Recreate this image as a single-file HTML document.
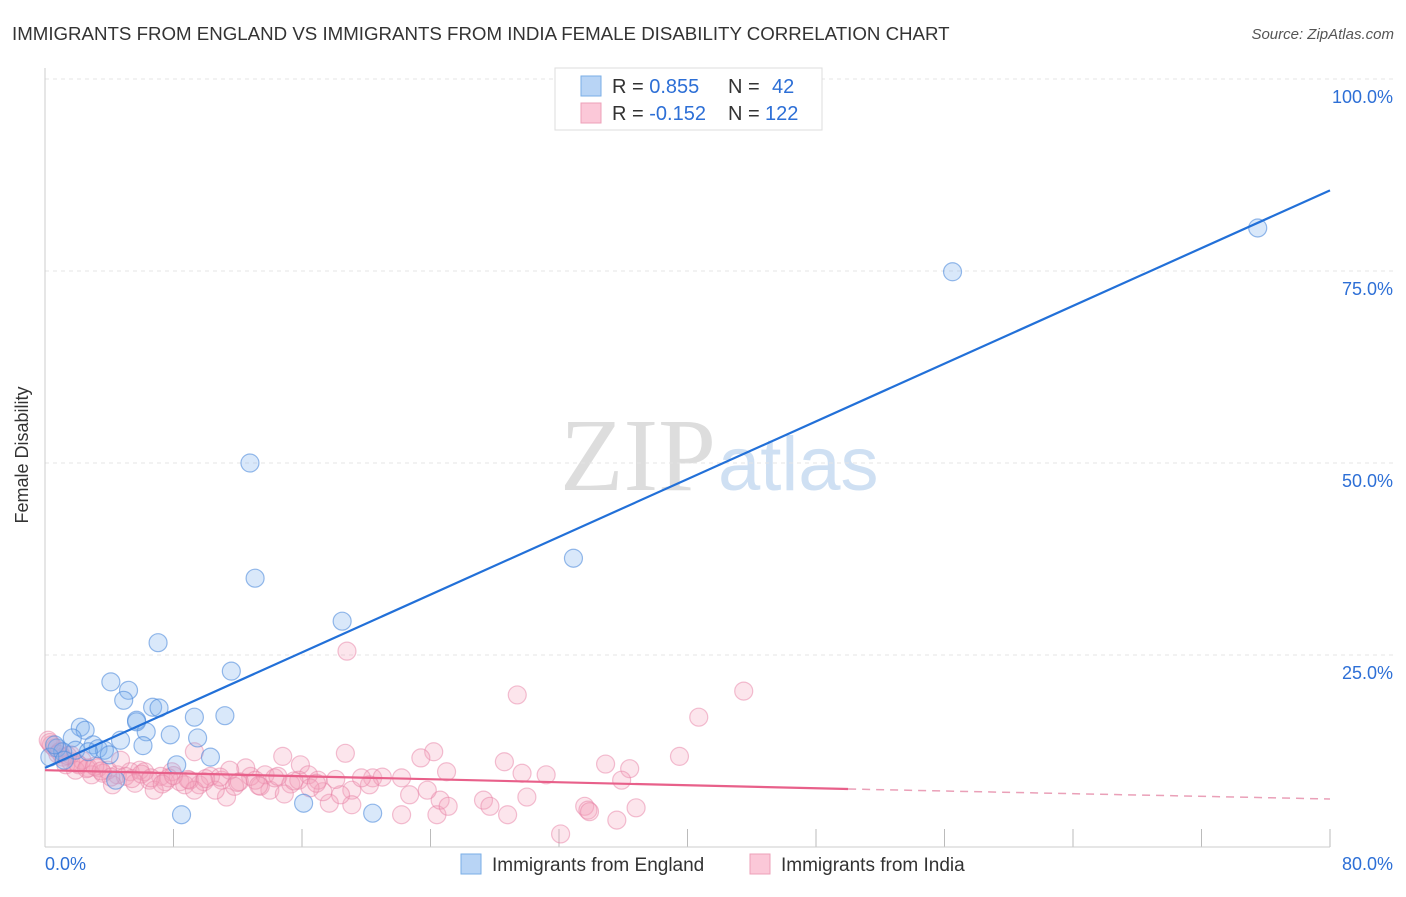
<!DOCTYPE html>
<html><head><meta charset="utf-8"><style>
body{margin:0;background:#fff;font-family:"Liberation Sans",sans-serif}
</style></head><body>
<svg width="1406" height="892" xmlns="http://www.w3.org/2000/svg" font-family="Liberation Sans, sans-serif">
<text x="12" y="40" font-size="18.7" fill="#333">IMMIGRANTS FROM ENGLAND VS IMMIGRANTS FROM INDIA FEMALE DISABILITY CORRELATION CHART</text>
<text x="1394" y="39" font-size="15" fill="#555" font-style="italic" text-anchor="end">Source: ZipAtlas.com</text>
<text x="716" y="490" font-size="104" fill="#ddd" text-anchor="end" font-family="Liberation Serif, serif">ZIP</text>
<text x="718" y="490" font-size="76" fill="#cfe0f3">atlas</text>
<g id="grid"></g>
<line x1="45" y1="68" x2="45" y2="847" stroke="#ccc"/>
<line x1="45" y1="847" x2="1330" y2="847" stroke="#ccc"/>
<text x="28" y="455" font-size="18" fill="#333" text-anchor="middle" transform="rotate(-90 28 455)">Female Disability</text>
<g id="pts"></g>
<g id="lines"></g>
<g>
<rect x="555" y="68" width="267" height="62" fill="#fff" stroke="#ddd"/>
<rect x="581" y="76" width="20" height="20" fill="#b8d4f5" stroke="#7aaee6"/>
<rect x="581" y="103" width="20" height="20" fill="#fbc8d8" stroke="#eea0b8"/>
<text x="612" y="93" font-size="20" fill="#333">R = <tspan fill="#2d6fd6">0.855</tspan><tspan x="728">N = </tspan><tspan fill="#2d6fd6" x="772">42</tspan></text>
<text x="612" y="120" font-size="20" fill="#333">R = <tspan fill="#2d6fd6">-0.152</tspan><tspan x="728">N = </tspan><tspan fill="#2d6fd6" x="765">122</tspan></text>
</g>
<g>
<rect x="461" y="854" width="20" height="20" fill="#b8d4f5" stroke="#7aaee6"/>
<text x="492" y="871" font-size="19" fill="#333">Immigrants from England</text>
<rect x="750" y="854" width="20" height="20" fill="#fbc8d8" stroke="#eea0b8"/>
<text x="781" y="871" font-size="19" fill="#333">Immigrants from India</text>
</g>
<text x="45" y="870" font-size="18" fill="#2d6fd6">0.0%</text>
<text x="1393" y="870" font-size="18" fill="#2d6fd6" text-anchor="end">80.0%</text>
</svg>
<script>
const englandX=[12.76,13.08,18.5,32.9,56.5,75.5,7.04,11.6,4.1,5.2,4.9,6.7,7.1,5.7,9.3,11.2,2.2,2.5,6.3,7.8,9.5,1.7,4.7,6.1,3.0,3.3,3.7,1.9,0.75,1.1,0.3,10.3,8.2,4.4,8.5,16.1,20.4,2.7,1.2,4.0,0.6,5.7];
const englandY=[50.0,35.0,29.4,37.6,74.9,80.6,26.6,22.9,21.5,20.4,19.1,18.2,18.1,16.5,16.9,17.1,15.6,15.2,15.0,14.6,14.2,14.2,13.9,13.2,13.3,12.8,12.6,12.6,12.9,12.4,11.7,11.7,10.7,8.7,4.2,5.7,4.4,12.4,11.3,12.0,13.3,16.3];
const indiaX=[18.8,29.4,43.5,40.7,39.5,34.9,36.4,35.9,31.2,29.7,28.6,24.2,23.4,25.0,18.7,14.8,15.9,9.3,30.0,27.3,27.7,28.8,32.1,33.6,33.8,33.9,36.8,35.6,22.2,24.4,24.6,25.1,22.7,23.8,22.2,20.4,21.0,20.2,19.1,19.1,17.7,17.3,16.4,17.0,15.3,14.0,13.4,12.8,12.1,11.3,11.0,10.3,9.6,9.0,8.4,7.9,7.2,6.5,5.9,5.3,4.5,3.9,3.3,2.7,2.1,1.6,1.1,0.6,0.2,0.4,0.9,1.6,2.3,2.9,3.6,5.0,6.2,7.5,8.7,9.9,10.6,11.8,12.5,13.7,14.3,15.8,16.5,18.4,19.7,14.9,13.1,11.5,4.2,6.8,9.3,5.6,1.3,1.9,4.7,7.7,0.3,0.8,1.4,2.0,2.6,3.1,3.5,4.1,5.4,6.0,6.6,7.3,8.0,8.9,10.0,10.9,12.0,13.3,14.5,15.5,16.9,18.1];
const indiaY=[25.5,19.8,20.3,16.9,11.8,10.8,10.2,8.7,9.4,9.6,11.1,12.4,11.6,9.8,12.2,11.8,10.7,12.4,6.5,6.1,5.3,4.2,1.7,5.3,4.8,4.6,5.1,3.5,4.2,4.2,6.1,5.3,6.8,7.4,9.0,9.0,9.1,8.1,7.4,5.5,5.7,7.2,9.4,8.7,8.2,7.4,7.9,9.2,8.5,6.5,8.7,9.2,8.1,8.7,8.5,9.8,9.2,8.7,10.0,9.8,9.4,10.0,10.3,10.3,10.7,11.1,11.7,12.9,13.9,13.3,12.4,12.0,11.3,9.4,9.6,9.2,9.8,8.5,8.1,8.5,7.4,7.9,10.3,9.4,9.0,8.7,7.7,6.8,9.0,6.9,8.7,10.0,8.1,7.4,7.4,8.3,10.7,10.0,11.3,9.0,13.6,12.1,11.9,10.9,10.2,10.5,9.9,9.1,8.9,9.5,9.0,8.2,9.3,8.8,8.9,9.1,8.4,8.0,9.2,8.6,8.3,8.8];
const yTicks=[25,50,75,100];
const yTickLabels=["25.0%","50.0%","75.0%","100.0%"];
const xTicks=[8,16,24,32,40,48,56,64,72,80];
const blueTrend=[10.3,85.5];
const pinkTrend=[10.0,7.55,6.25];
const NS="http://www.w3.org/2000/svg";
const X=v=>45+v/80*1285, Y=v=>847-v/100*768;
function mk(t,a,p){const e=document.createElementNS(NS,t);for(const k in a)e.setAttribute(k,a[k]);p.appendChild(e);return e;}
const grid=document.getElementById('grid');
yTicks.forEach((t,i)=>{
 const l=mk('line',{x1:45,x2:1393,y1:Y(t),y2:Y(t),stroke:'#e4e4e4','stroke-dasharray':'4,4'},grid);
 
 
 const tx=mk('text',{x:1393,y:Y(t)+24,'font-size':18,fill:'#2d6fd6','text-anchor':'end'},grid);
 tx.textContent=yTickLabels[i];
 
 
});
xTicks.forEach(t=>{
 const l=mk('line',{x1:X(t),x2:X(t),y1:847,y2:829,stroke:'#bbb'},grid);
 
 
});
const pts=document.getElementById('pts');
indiaX.forEach((x,i)=>{
 const c=mk('circle',{cx:X(x),cy:Y(indiaY[i]),r:9,fill:'rgba(245,160,188,0.28)',stroke:'rgba(232,130,165,0.5)','stroke-width':1.2},pts);
 
 
});
englandX.forEach((x,i)=>{
 const c=mk('circle',{cx:X(x),cy:Y(englandY[i]),r:9,fill:'rgba(130,178,238,0.3)',stroke:'rgba(80,140,220,0.6)','stroke-width':1.2},pts);
 
 
});
const lines=document.getElementById('lines');
const b=mk('line',{x1:X(0),y1:Y(blueTrend[0]),x2:X(80),y2:Y(blueTrend[1]),stroke:'#2270d8','stroke-width':2.2},lines);


const p1=mk('line',{x1:X(0),y1:Y(pinkTrend[0]),x2:X(50),y2:Y(pinkTrend[1]),stroke:'#e8608a','stroke-width':2.2},lines);


const p2=mk('line',{x1:X(50),y1:Y(pinkTrend[1]),x2:X(80),y2:Y(pinkTrend[2]),stroke:'#eaa0b8','stroke-width':1.5,'stroke-dasharray':'8,6'},lines);


</script>
</body></html>
